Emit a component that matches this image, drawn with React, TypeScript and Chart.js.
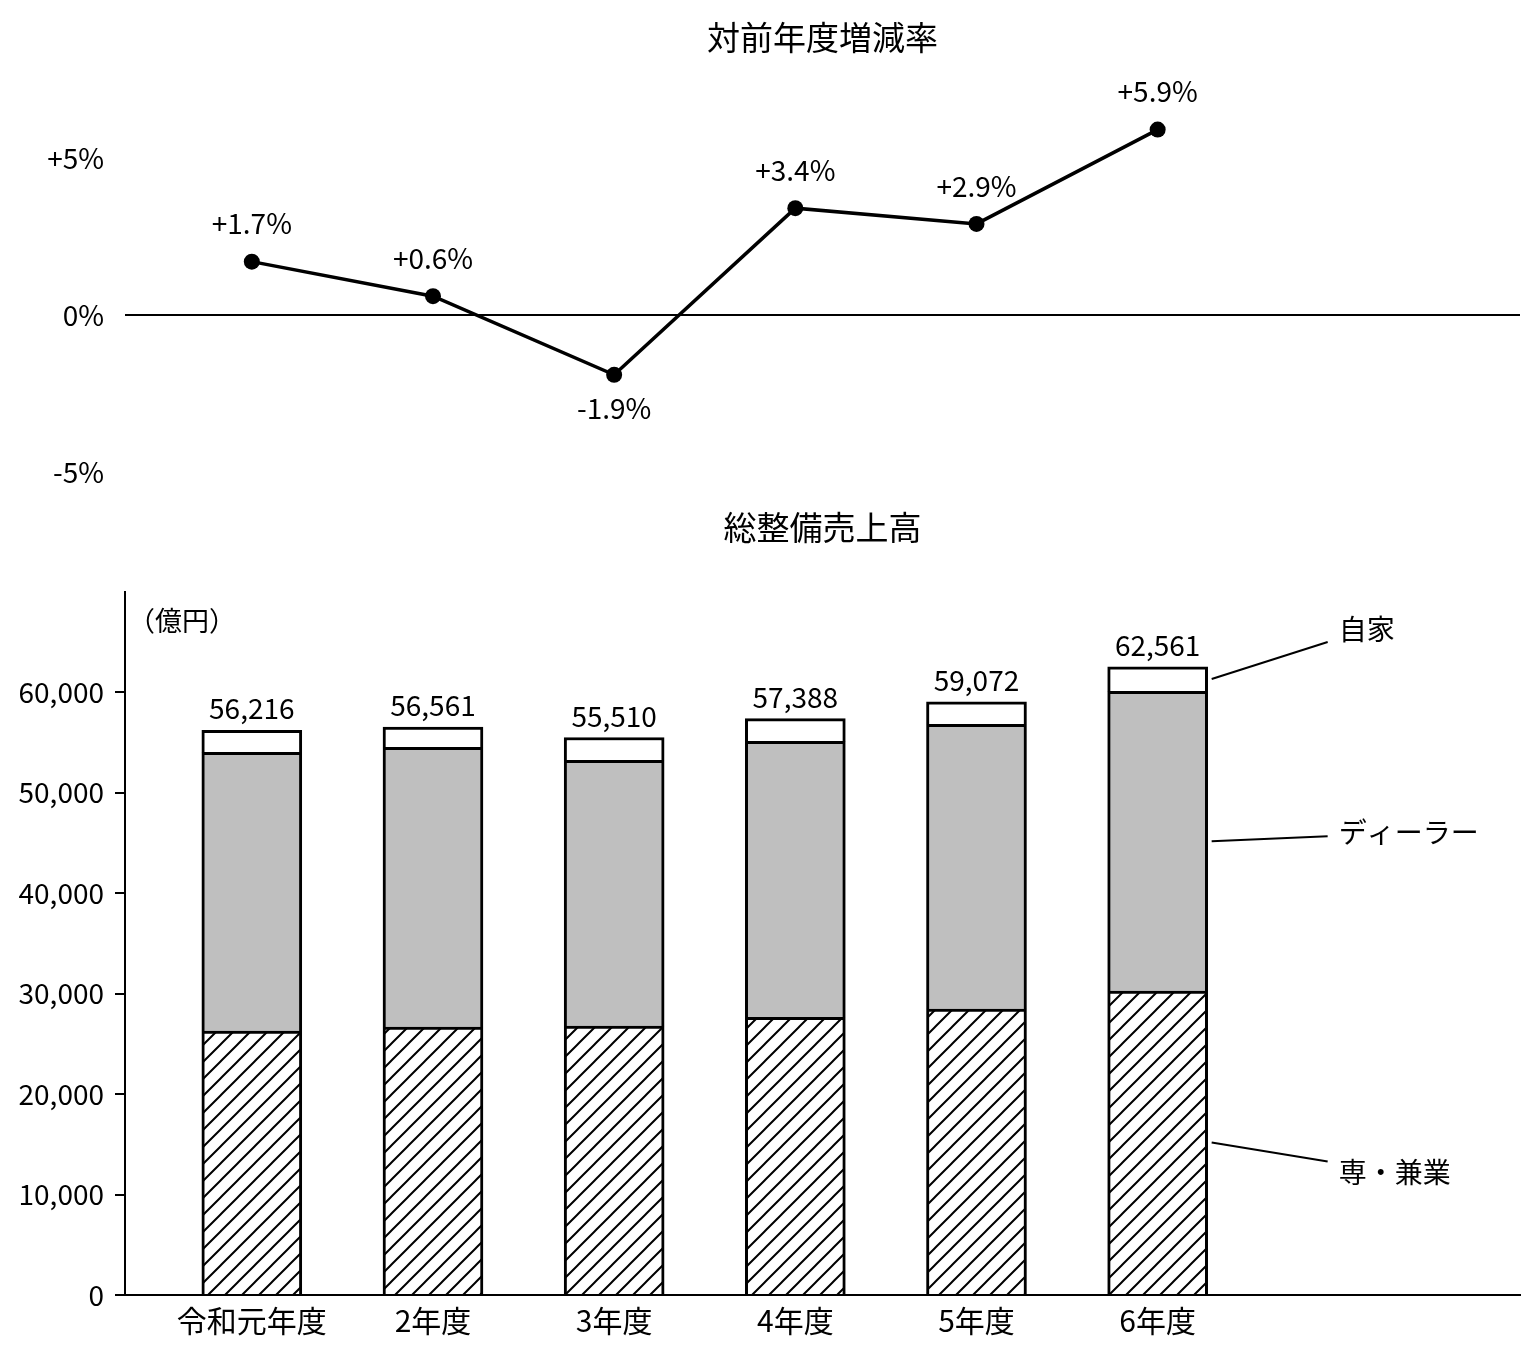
import { useEffect, useRef } from 'react';
import { Chart, registerables } from 'chart.js';

Chart.register(...registerables);

const FONT = "'Noto Sans CJK JP', 'Noto Sans', sans-serif";

// 年度
const years = ['令和元年度', '2年度', '3年度', '4年度', '5年度', '6年度'];

// 対前年度増減率 (%)
const growthRate = [1.7, 0.6, -1.9, 3.4, 2.9, 5.9];
const rateTicks = [-5, 0, 5];

// 総整備売上高 (億円)
const senkengyo = [26270, 26670, 26770, 27660, 28460, 30250];
const dealer = [27760, 27860, 26470, 27460, 28360, 29850];
const jika = [2190, 2030, 2270, 2270, 2250, 2460];
const totals = [56216, 56561, 55510, 57388, 59072, 62561];
const salesTicks = [0, 10000, 20000, 30000, 40000, 50000, 60000];
const segmentNames = ['専・兼業', 'ディーラー', '自家'];

function makeHatch(): CanvasPattern | string {
  const size = 17;
  const c = document.createElement('canvas');
  c.width = size;
  c.height = size;
  const ctx = c.getContext('2d');
  if (!ctx) return '#fff';
  ctx.fillStyle = '#fff';
  ctx.fillRect(0, 0, size, size);
  ctx.strokeStyle = '#000';
  ctx.lineWidth = 2;
  ctx.beginPath();
  ctx.moveTo(-2, size + 2);
  ctx.lineTo(size + 2, -2);
  ctx.moveTo(-2, 2);
  ctx.lineTo(2, -2);
  ctx.moveTo(size - 2, size + 2);
  ctx.lineTo(size + 2, size - 2);
  ctx.stroke();
  return ctx.createPattern(c, 'repeat') ?? '#fff';
}

function drawTitle(chart: Chart, text: string, y: number) {
  const { ctx, chartArea } = chart;
  ctx.save();
  ctx.fillStyle = '#000';
  ctx.font = `33px ${FONT}`;
  ctx.textAlign = 'center';
  ctx.textBaseline = 'middle';
  ctx.fillText(text, (chartArea.left + chartArea.right) / 2, y);
  ctx.restore();
}

// keep the axis range exactly as configured, whatever ticks are shown
const fixRange = (min: number, max: number, ticks: number[]) => (s: any) => {
  s.ticks = ticks.map((v) => ({ value: v }));
  s.min = min;
  s.max = max;
};

export default function App() {
  const topRef = useRef<HTMLCanvasElement | null>(null);
  const bottomRef = useRef<HTMLCanvasElement | null>(null);

  useEffect(() => {
    document.body.style.margin = '0';
    document.body.style.overflow = 'hidden';
    if (!topRef.current || !bottomRef.current) return;

    const rateLabels = {
      id: 'rateLabels',
      afterDatasetsDraw(chart: Chart) {
        const { ctx } = chart;
        const meta = chart.getDatasetMeta(0);
        ctx.save();
        ctx.fillStyle = '#000';
        ctx.font = `28px ${FONT}`;
        ctx.textAlign = 'center';
        ctx.textBaseline = 'middle';
        meta.data.forEach((pt: any, i: number) => {
          const v = growthRate[i];
          const txt = (v > 0 ? '+' : '') + v.toFixed(1) + '%';
          ctx.fillText(txt, pt.x, v >= 0 ? pt.y - 38 : pt.y + 34);
        });
        ctx.restore();
        drawTitle(chart, '対前年度増減率', 37);
      },
    };

    const top = new Chart(topRef.current, {
      type: 'line',
      data: {
        datasets: [
          {
            data: growthRate.map((v, i) => ({ x: i, y: v })),
            borderColor: '#000',
            borderWidth: 3.5,
            pointRadius: 8,
            pointBackgroundColor: '#000',
            pointBorderWidth: 0,
            clip: false as any,
          },
        ],
      },
      options: {
        animation: false,
        responsive: true,
        maintainAspectRatio: false,
        layout: { padding: { top: 95, right: 19, left: 0, bottom: 12 } },
        plugins: { legend: { display: false }, tooltip: { enabled: false } },
        scales: {
          x: {
            type: 'linear',
            min: -0.7,
            max: 7,
            display: false,
            afterBuildTicks: (s: any) => {
              s.min = -0.7;
              s.max = 7;
            },
          },
          y: {
            min: -5.5,
            max: 7,
            afterBuildTicks: fixRange(-5.5, 7, rateTicks),
            afterFit: (s: any) => {
              s.width = 125;
              s.paddingTop = 0;
              s.paddingBottom = 0;
            },
            border: { display: false },
            grid: {
              drawTicks: false,
              lineWidth: 2,
              color: (ctx: any) => (ctx.tick && ctx.tick.value === 0 ? '#000' : 'rgba(0,0,0,0)'),
            },
            ticks: {
              padding: 21,
              color: '#000',
              font: { family: FONT, size: 28 },
              callback: (v: any) => (Number(v) > 0 ? '+' : '') + v + '%',
            },
          },
        },
      },
      plugins: [rateLabels],
    });

    const hatch = makeHatch();

    const salesLabels = {
      id: 'salesLabels',
      afterDatasetsDraw(chart: Chart) {
        const { ctx, chartArea } = chart;
        ctx.save();
        ctx.fillStyle = '#000';
        ctx.strokeStyle = '#000';
        ctx.textBaseline = 'alphabetic';
        ctx.textAlign = 'center';
        ctx.font = `28px ${FONT}`;
        const topMeta = chart.getDatasetMeta(2);
        topMeta.data.forEach((bar: any, i: number) => {
          ctx.fillText(totals[i].toLocaleString('en-US'), bar.x, bar.y - 11);
        });

        // 凡例の引き出し線
        const last = years.length - 1;
        const offsets = [
          { line: 19, text: 30 },
          { line: -5, text: -9 },
          { line: -37, text: -50 },
        ];
        ctx.lineWidth = 2;
        ctx.textAlign = 'left';
        ctx.textBaseline = 'middle';
        ctx.font = `28px ${FONT}`;
        segmentNames.forEach((name, d) => {
          const bar: any = chart.getDatasetMeta(d).data[last];
          const mid = (bar.y + bar.base) / 2;
          const right = bar.x + bar.width / 2;
          ctx.beginPath();
          ctx.moveTo(right + 4, mid);
          ctx.lineTo(right + 120, mid + offsets[d].line);
          ctx.stroke();
          ctx.fillText(name, right + 131, mid + offsets[d].text);
        });

        ctx.font = `27px ${FONT}`;
        ctx.fillText('（億円）', chartArea.left + 3, chartArea.top + 29);
        ctx.restore();
        drawTitle(chart, '総整備売上高', 27);
      },
    };

    const seg = (label: string, values: number[], bg: any) => ({
      label,
      data: values.map((v, i) => ({ x: i, y: v })),
      backgroundColor: bg,
      borderColor: '#000',
      borderWidth: 3,
      barThickness: 100,
    });

    const bottom = new Chart(bottomRef.current, {
      type: 'bar',
      data: {
        datasets: [
          seg(segmentNames[0], senkengyo, hatch),
          seg(segmentNames[1], dealer, '#bfbfbf'),
          seg(segmentNames[2], jika, '#ffffff'),
        ],
      },
      options: {
        animation: false,
        responsive: true,
        maintainAspectRatio: false,
        layout: { padding: { top: 92, right: 19, left: 0, bottom: 0 } },
        plugins: { legend: { display: false }, tooltip: { enabled: false } },
        scales: {
          x: {
            type: 'linear',
            min: -0.7,
            max: 7,
            offset: false,
            stacked: true,
            afterBuildTicks: fixRange(-0.7, 7, years.map((_, i) => i)),
            afterFit: (s: any) => {
              s.height = 61;
            },
            grid: { display: false, drawTicks: false },
            border: { color: '#000', width: 2 },
            ticks: {
              padding: 8,
              color: '#000',
              autoSkip: false,
              maxRotation: 0,
              font: { family: FONT, size: 30 },
              callback: (v: any) => years[Number(v)] ?? '',
            },
          },
          y: {
            stacked: true,
            min: 0,
            max: 70000,
            afterBuildTicks: fixRange(0, 70000, salesTicks),
            afterFit: (s: any) => {
              s.width = 125;
            },
            grid: { drawOnChartArea: false, drawTicks: true, tickLength: 10, color: '#000', lineWidth: 2 },
            border: { color: '#000', width: 2 },
            ticks: {
              padding: 11,
              color: '#000',
              font: { family: FONT, size: 28 },
              callback: (v: any) => Number(v).toLocaleString('en-US'),
            },
          },
        },
      },
      plugins: [salesLabels],
    });

    return () => {
      top.destroy();
      bottom.destroy();
    };
  }, []);

  return (
    <div style={{ width: 1539, background: '#fff' }}>
      <div style={{ position: 'relative', height: 500 }}>
        <canvas ref={topRef} />
      </div>
      <div style={{ position: 'relative', height: 856 }}>
        <canvas ref={bottomRef} />
      </div>
    </div>
  );
}
